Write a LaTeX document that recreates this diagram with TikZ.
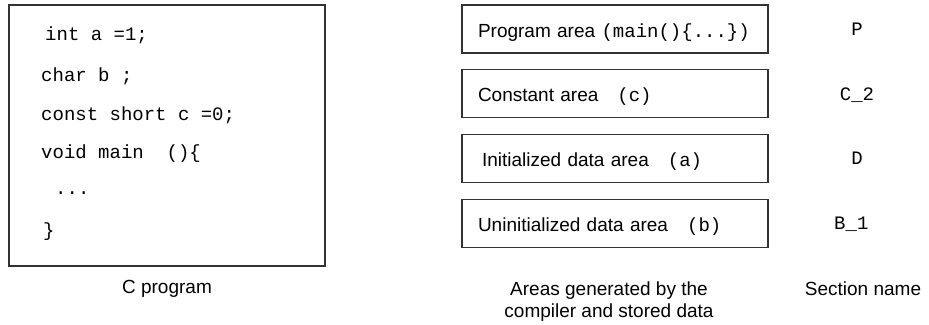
\documentclass[tikz,border=0pt]{standalone}
\usepackage{fontspec}
\setmainfont{Liberation Sans}
\setmonofont{Liberation Mono}
\newcommand\cd[1]{{\ttfamily #1}}
\begin{document}
\begin{tikzpicture}[x=1pt,y=-1pt,font=\fontsize{19}{22}\selectfont,
  box/.style={draw=black!80,line width=1.1pt,outer sep=0pt},
  area/.style={box,minimum height=48pt,text width=296pt,inner xsep=5pt,align=left,text height=18pt,text depth=2pt,
    execute at begin node=\hspace*{11pt}},
  codeline/.style={anchor=base west,inner sep=0pt,font=\fontsize{19}{22}\ttfamily},
  caption/.style={anchor=base,inner sep=0pt,align=center}]
\useasboundingbox (0,0) rectangle (929,324);
\node[box,minimum width=316pt,minimum height=261pt](prog) at(167,135.5){};
\foreach \l/\x/\y[count=\i] in {
 {int a =1;}/45/40,
 {char b ;}/41/81,
 {const short c =0;}/41/120,
 {void main\ \ ()\{}/41/158,
 {...}/55/194,
 {\}}/43/236
}
\node[codeline](code\i) at(\x,\y){\l};
\node[caption](progname) at(167,293){C program};
\foreach \a/\s[count=\i,evaluate=\i as\y using 29+(\i-1)*64.7] in {
 {Program area \cd{(main()\{...\})}}/P,
 {Constant area\ \ \ \cd{(c)}}/C\_2,
 {\hspace*{4pt}Initialized data area\ \ \ \cd{(a)}}/D,
 {Uninitialized data area\ \ \ \cd{(b)}}/B\_1
}
\node[area](area\i) at(615,\y){\a}
    node[caption,font=\fontsize{19}{22}\ttfamily] at(857,\y+6.5)(sec\i){\s};
\node[caption](areaname) at(609,317){Areas generated by the\\compiler and stored data};
\node[caption](secname) at(863,295){Section name};
\end{tikzpicture}
\end{document}
